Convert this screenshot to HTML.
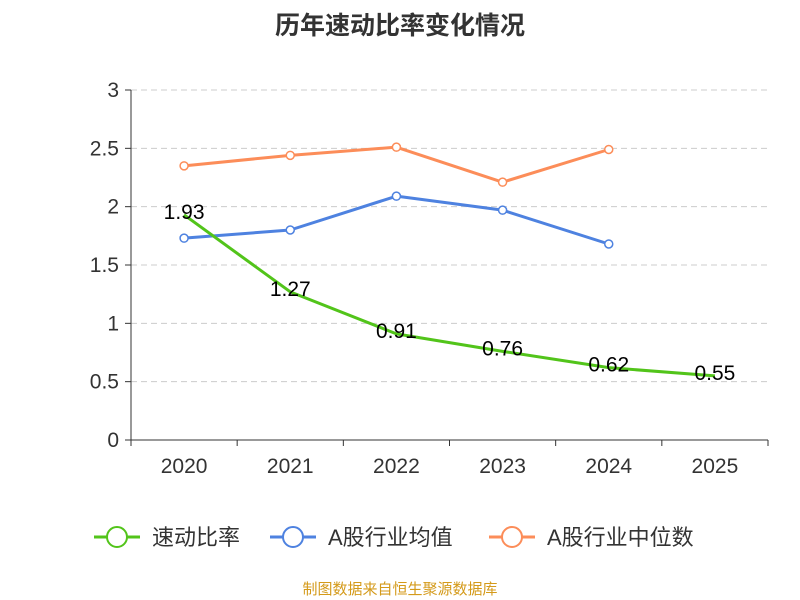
<!DOCTYPE html>
<html><head><meta charset="utf-8">
<style>
body{margin:0;background:#fff;}
svg{display:block;font-family:"Liberation Sans","Noto Sans CJK SC",sans-serif;}
</style></head>
<body>
<svg id="chart" width="800" height="600" viewBox="0 0 800 600">
<text x="400" y="34" text-anchor="middle" font-size="25" font-weight="bold" fill="#333">历年速动比率变化情况</text>
<g id="grid"></g><g id="axes"></g><g id="series"></g>
<g id="legend"></g>
<text x="400" y="594" text-anchor="middle" font-size="15" fill="#d49a1a">制图数据来自恒生聚源数据库</text>
</svg>
<script>
const categories=["2020","2021","2022","2023","2024","2025"];
const quickRatio=[1.93,1.27,0.91,0.76,0.62,0.55];
const industryAvg=[1.73,1.80,2.09,1.97,1.68];
const industryMedian=[2.35,2.44,2.51,2.21,2.49];
const yTicks=[0,0.5,1,1.5,2,2.5,3];
const yTickLabels=["0","0.5","1","1.5","2","2.5","3"];
const seriesNames=["速动比率","A股行业均值","A股行业中位数"];

const NS="http://www.w3.org/2000/svg";
const X0=131,X1=768,Y0=440,Y1=90,YMAX=3;
const band=(X1-X0)/categories.length;
const xs=i=>X0+band*(i+0.5);
const ys=v=>Y0-(v/YMAX)*(Y0-Y1);
function mk(tag,attrs,parent,text){const e=document.createElementNS(NS,tag);for(const k in attrs)e.setAttribute(k,attrs[k]);if(text!==undefined)e.textContent=text;parent.appendChild(e);return e;}
const grid=document.getElementById('grid'),axes=document.getElementById('axes'),ser=document.getElementById('series'),leg=document.getElementById('legend');
yTicks.forEach((t,i)=>{
  if(t>0){const l=mk('line',{x1:X0,x2:X1,y1:ys(t),y2:ys(t),stroke:'#ccc','stroke-dasharray':'6,4'},grid);
  
  }
  const tk=mk('line',{x1:X0-6,x2:X0,y1:ys(t),y2:ys(t),stroke:'#333'},axes);
  
  
  const tx=mk('text',{x:X0-12,y:ys(t)+7,'text-anchor':'end','font-size':21,fill:'#333'},axes,yTickLabels[i]);
  
  
});
let ya=mk('line',{x1:X0,x2:X0,y1:Y1,y2:Y0,stroke:'#333'},axes);


let xa=mk('line',{x1:X0,x2:X1,y1:Y0,y2:Y0,stroke:'#333'},axes);


for(let i=0;i<=categories.length;i++){const t=mk('line',{x1:X0+band*i,x2:X0+band*i,y1:Y0,y2:Y0+6,stroke:'#333'},axes);
  
  }
categories.forEach((c,i)=>{const t=mk('text',{x:xs(i),y:Y0+33,'text-anchor':'middle','font-size':21,fill:'#333'},axes,c);
  
  });
function drawLine(vals,color,name,markers,labels){
  const pts=vals.map((v,i)=>xs(i)+','+ys(v)).join(' ');
  const p=mk('polyline',{points:pts,fill:'none',stroke:color,'stroke-width':3,'stroke-linejoin':'round'},ser);
  
  
  vals.forEach((v,i)=>{
    if(markers){const c=mk('circle',{cx:xs(i),cy:ys(v),r:4,fill:'#fff',stroke:color,'stroke-width':1.5},ser);
      
      }
    if(labels){const t=mk('text',{x:xs(i),y:ys(v)+4,'text-anchor':'middle','font-size':21,fill:'#000'},ser,v.toFixed(2));
      
      }
  });
}
drawLine(industryMedian,'#fc8d59','industry-median',true,false);
drawLine(industryAvg,'#4e82e0','industry-average',true,false);
drawLine(quickRatio,'#52c41a','quick-ratio',false,true);
const legColors=['#52c41a','#4e82e0','#fc8d59'];
const legX=[94,270,489];
seriesNames.forEach((n,i)=>{
  const g=mk('g',{},leg);
  
  
  mk('line',{x1:legX[i],x2:legX[i]+46,y1:537,y2:537,stroke:legColors[i],'stroke-width':3},g);
  mk('circle',{cx:legX[i]+23,cy:537,r:10,fill:'#fff',stroke:legColors[i],'stroke-width':2},g);
  mk('text',{x:legX[i]+58,y:545,'font-size':22,fill:'#333'},g,n);
});
</script>
</body></html>
